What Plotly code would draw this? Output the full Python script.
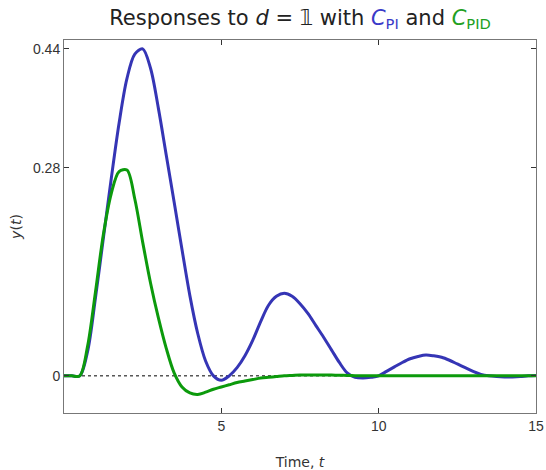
import plotly.graph_objects as go

# Time grid (step 0.25) and values
t = [i * 0.25 for i in range(61)]

y_pi = [0, 0, 0, 0.033, 0.105, 0.185, 0.265, 0.34, 0.40, 0.433,
        0.44, 0.414, 0.36, 0.297, 0.234, 0.17, 0.108, 0.057, 0.02, 0.0,
        -0.006, 0.0, 0.011, 0.027, 0.048, 0.073, 0.095, 0.107, 0.111, 0.107,
        0.097, 0.084, 0.068, 0.052, 0.035, 0.018, 0.004, -0.002, -0.003, -0.002,
        0.0, 0.006, 0.012, 0.018, 0.023, 0.026, 0.028, 0.027, 0.025, 0.021,
        0.016, 0.011, 0.006, 0.002, 0.0, -0.001, -0.0015, -0.0015, -0.001, 0.0,
        0.0005]

y_pid = [0, 0, 0, 0.04, 0.113, 0.19, 0.245, 0.275, 0.277, 0.238,
         0.18, 0.125, 0.078, 0.037, 0.004, -0.015, -0.023, -0.025, -0.022, -0.018,
         -0.015, -0.012, -0.009, -0.007, -0.005, -0.003, -0.002, -0.001, 0.0, 0.0005,
         0.001, 0.001, 0.001, 0.001, 0.001, 0.0008, 0.0005, 0.0003, 0.0, 0.0,
         0.0, 0.0, 0.0, 0.0, 0.0, 0.0, 0.0, 0.0, 0.0, 0.0,
         0.0, 0.0, 0.0, 0.0, 0.0, 0.0, 0.0, 0.0, 0.0, 0.0,
         0.0]

x_ticks = [5, 10, 15]
y_ticks = [0, 0.28, 0.44]

BLUE = "#3535b5"
GREEN = "#0c9a0c"

fig = go.Figure()
fig.add_hline(y=0, line=dict(color="black", width=1, dash="dot"), layer="below")
fig.add_trace(go.Scatter(x=t, y=y_pi, mode="lines", line=dict(color=BLUE, width=3, shape="spline", smoothing=0.9), showlegend=False))
fig.add_trace(go.Scatter(x=t, y=y_pid, mode="lines", line=dict(color=GREEN, width=3, shape="spline", smoothing=0.9), showlegend=False))

axis_common = dict(showgrid=False, zeroline=False, showline=True, linecolor="#777777", linewidth=1,
                   mirror="ticks", ticks="inside", ticklen=5, tickcolor="#333333", automargin=False,
                   tickfont=dict(family="Liberation Sans", size=14, color="#333333"))

fig.update_xaxes(range=[0, 15], tickvals=x_ticks, ticktext=[str(v) for v in x_ticks],
                 title=dict(text="Time, <i>t</i>", font=dict(family="DejaVu Sans", size=14, color="#333333"), standoff=26),
                 **axis_common)
fig.update_yaxes(range=[-0.05, 0.452], tickvals=y_ticks, ticktext=["0", "0.28", "0.44"],
                 title=dict(text="<i>y</i>(<i>t</i>)", font=dict(family="DejaVu Sans", size=14, color="#333333"), standoff=8),
                 **axis_common)

fig.update_layout(
    width=546, height=470,
    margin=dict(l=64, r=10, t=40, b=57),
    plot_bgcolor="white", paper_bgcolor="white",
    title=dict(text="Responses to <i>d</i> = 𝟙 with <span style='color:#3a3ac8'><i>C</i><sub>PI</sub></span> and <span style='color:#22a022'><i>C</i><sub>PID</sub></span>",
               x=0.5, xref="paper", xanchor="center", y=0.978, yanchor="top",
               font=dict(family="DejaVu Sans", size=21, color="#222222")),
)

fig.write_html("out.html")
